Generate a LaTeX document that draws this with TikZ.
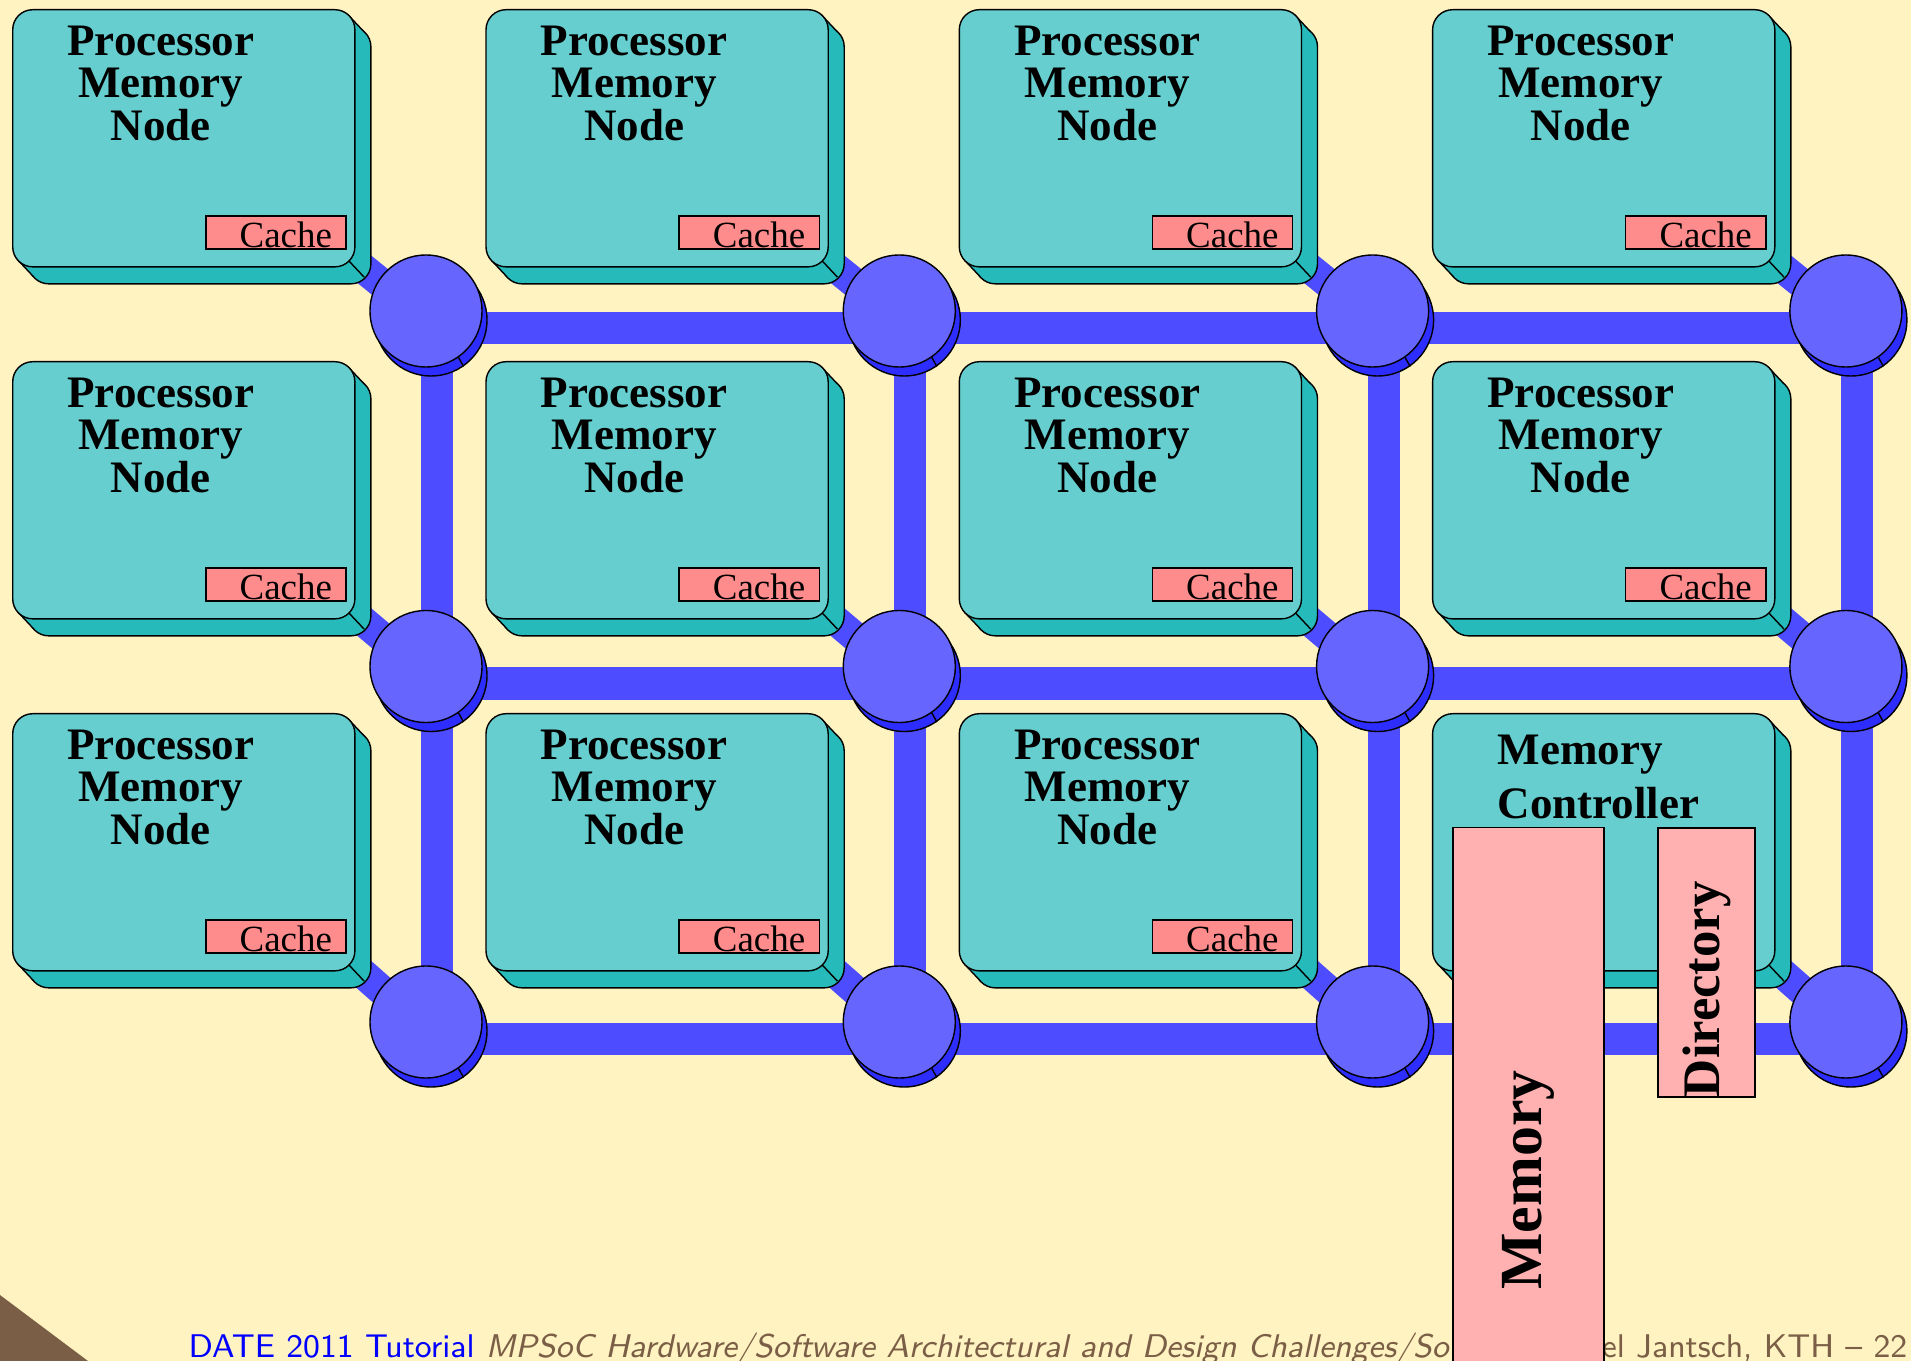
\documentclass[tikz,border=0pt]{standalone}
\usepackage{fontspec}
\setmainfont{Liberation Serif}
\pgfdeclarelayer{background}
\pgfsetlayers{background,main}
\definecolor{bgyellow}{RGB}{255,243,194}
\definecolor{boxface}{RGB}{102,206,206}
\definecolor{boxside}{RGB}{38,186,186}
\definecolor{cachered}{RGB}{255,140,140}
\definecolor{mempink}{RGB}{255,176,176}
\definecolor{routerface}{RGB}{102,102,255}
\definecolor{routerside}{RGB}{45,45,255}
\definecolor{linkblue}{RGB}{77,77,255}
\definecolor{footbrown}{RGB}{122,94,69}
\begin{document}
\begin{tikzpicture}[x=0.01cm,y=-0.01cm,line width=0.6pt,
    box face/.style={draw,fill=boxface,rounded corners=0.2cm,minimum width=3.42cm,minimum height=2.57cm,inner sep=0pt},
    box side/.style={box face,fill=boxside},
    router face/.style={circle,draw,fill=routerface,minimum size=1.12cm,inner sep=0pt},
    router side/.style={router face,fill=routerside},
    link/.style={linkblue,line width=0.32cm},
    tap/.style={linkblue,line width=0.3cm},
    cache box/.style={draw,fill=cachered,anchor=south east,text width=1.12cm,align=right,
      inner xsep=0.14cm,inner ysep=0.01cm,text height=0.31cm,text depth=0pt,
      font=\fontsize{10.5pt}{12pt}\selectfont},
    pm label/.style={anchor=north,align=center,inner sep=0pt,font=\fontsize{12.8pt}{12.1pt}\selectfont\bfseries},
    store/.style={draw,fill=mempink,rotate=90,inner sep=0pt},
    foot/.style={inner sep=0pt,font=\fontsize{9.33pt}{11pt}\selectfont\sffamily}]

  \useasboundingbox (0,0) rectangle (1911,1361);
  \begin{pgfonlayer}{background}
    \fill[bgyellow] (0,0) rectangle (1911,1361);
  \end{pgfonlayer}
  \fill[footbrown] (0,1295) -- (88,1361) -- (0,1361) -- cycle;

  % Nodes (boxes with 3D side)
  \foreach \row in {1,2,3}
    \foreach \col in {1,...,4}{
      \pgfmathsetmacro\bx{12+473.3*(\col-1)}
      \pgfmathsetmacro\by{9+352*(\row-1)}
      \node[box side,anchor=north west] (ps\row\col) at (\bx+16,\by+17) {};
      \fill[boxside] (\bx+336.1,\by+5.9) -- ++(16,17) -- ++(-30,30) -- ++(-16,-17) -- cycle;
      \fill[boxside] (\bx+5.9,\by+251.1) -- ++(16,17) -- ++(30,-30) -- ++(-16,-17) -- cycle;
      \draw (\bx+336.1,\by+5.9) -- ++(16,17);
      \draw (\bx+5.9,\by+251.1) -- ++(16,17);
      \draw (\bx+336.1,\by+251.1) -- ++(16,17);
      \node[box face,anchor=north west] (p\row\col) at (\bx,\by) {};
    }

  % Routers
  \foreach \row in {1,2,3}
    \foreach \col in {1,...,4}{
      \pgfmathsetmacro\rx{426+473.3*(\col-1)}
      \pgfmathsetmacro\ry{311+355.5*(\row-1)}
      \node[router side] (rs\row\col) at (\rx+5,\ry+9) {};
      \node[router face] (r\row\col) at (\rx,\ry) {};
      \draw (r\row\col.-55) -- (rs\row\col.-55);
    }

  % Links
  \begin{pgfonlayer}{background}
    \foreach \row in {1,2,3}
      \draw[link] ([shift={(11,17)}]r\row1.center) -- ([shift={(11,17)}]r\row4.center);
    \foreach \col in {1,...,4}
      \draw[link] ([shift={(11,17)}]r1\col.center) -- ([shift={(11,17)}]r3\col.center);
    \foreach \n in {11,12,13,14,21,22,23,24,31,32,33,34}
      \draw[tap] ([shift={(-12,-15)}]p\n.south east) -- ([shift={(11,17)}]r\n.center);
  \end{pgfonlayer}

  % Labels
  \foreach \n in {11,12,13,14,21,22,23,24,31,32,33}{
    \node[pm label] (t\n) at ([shift={(-23,16)}]p\n.north) {Processor\\Memory\\Node};
    \node[cache box] (c\n) at ([shift={(-9,-18)}]p\n.south east) {Cache};
  }
  \node[anchor=north west,align=left,inner sep=0pt,font=\fontsize{12.8pt}{15.4pt}\selectfont\bfseries]
    (t34) at ([shift={(65,21)}]p34.north west) {Memory\\Controller};

  % Footer
  \node[foot,anchor=base west] (footl) at (188,1357)
    {\textcolor{blue}{DATE 2011 Tutorial} \textcolor{footbrown}{\itshape MPSoC Hardware/Software Architectural and Design Challenges/So}};
  \node[foot,anchor=base east,text=footbrown] (footr) at (1908,1357) {el Jantsch, KTH \textendash{} 22};

  % Memory and directory
  \node[store,minimum width=7.04cm,minimum height=1.51cm,font=\fontsize{17pt}{20pt}\selectfont\bfseries]
    (mem) at (1528.5,1180) {Memory};
  \node[store,minimum width=2.69cm,minimum height=0.97cm,text width=2.69cm,align=left,
    font=\fontsize{15pt}{18pt}\selectfont\bfseries] (dir) at (1706.5,962.5) {Directory};
\end{tikzpicture}
\end{document}
